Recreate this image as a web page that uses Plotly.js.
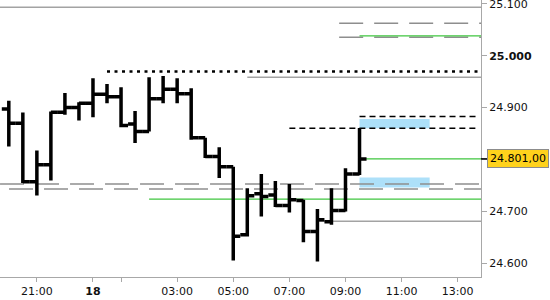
<!DOCTYPE html>
<html>
<head>
<meta charset="utf-8">
<script src="https://cdn.plot.ly/plotly-3.0.1.min.js"></script>
<style>
  html, body { margin: 0; padding: 0; background: #fff; }
  #chart { width: 550px; height: 300px; }
</style>
</head>
<body>
<div id="chart"></div>
<script>
// ---- axis slots (30-minute bars, one hour without trading) ----
const slotTimes = ["20:00","20:30","21:00","21:30","23:00","23:30","00:00","00:30","01:00","01:30",
  "02:00","02:30","03:00","03:30","04:00","04:30","05:00","05:30","06:00","06:30","07:00","07:30",
  "08:00","08:30","09:00","09:30","10:00","10:30","11:00","11:30","12:00","12:30","13:00","13:30"];

// ---- OHLC bars (index points) ----
const barTimes = ["20:00","20:30","21:00","21:30","23:00","23:30","00:00","00:30","01:00","01:30",
  "02:00","02:30","03:00","03:30","04:00","04:30","05:00","05:30","06:00","06:30","07:00","07:30",
  "08:00","08:30","09:00","09:30"];
const openV  = [24897.5, 24870, 24757, 24789.5, 24891, 24900, 24908.5, 24926, 24921, 24868.5, 24854, 24917, 24935.5, 24926.5, 24842, 24805.5, 24786, 24654.5, 24733.5, 24731.5, 24711, 24720.5, 24661, 24679.5, 24701.5, 24772];
const highV  = [24913, 24890.5, 24817, 24892.5, 24928, 24910.5, 24956.5, 24945.5, 24939.5, 24893.5, 24958.5, 24961, 24956.5, 24937.5, 24842, 24823.5, 24786, 24744.5, 24772, 24758.5, 24752.5, 24722, 24704.5, 24744.5, 24783, 24860.5];
const lowV   = [24825, 24754.5, 24730.5, 24759.5, 24886, 24875, 24881.5, 24908.5, 24862, 24831.5, 24854, 24908.5, 24908.5, 24838, 24802.5, 24764, 24605, 24651, 24690, 24708, 24697.5, 24640, 24603, 24674, 24699.5, 24770];
const closeV = [24870, 24757, 24789.5, 24891, 24900, 24908.5, 24926, 24921, 24865.5, 24854, 24917, 24935.5, 24926.5, 24842, 24805.5, 24786, 24651.5, 24730, 24728.5, 24711, 24722, 24661, 24683.5, 24701.5, 24772, 24801];

// ---- x tick labels ----
const tickTimes  = ["21:00","00:00","01:00","03:00","05:00","07:00","09:00","11:00","13:00"];
const tickLabels = ["21:00","<b>18</b>","","03:00","05:00","07:00","09:00","11:00","13:00"];

// ---- y ticks ----
const yTicks = [24600, 24700, 24800, 24900, 25000, 25100];

// ---- horizontal levels (value, start slot) ----
const grayLevels      = [25093.6, 24958.7, 24680.6];
const grayLevelStart  = [-1, 17, 22];
const dashLevels      = [25062.8, 25035.8, 24752.3, 24742.7];
const dashLevelStart  = [23.55, 23.55, -3.12, -2.48];
const greenLevels     = [25038.3, 24723.4];
const greenLevelStart = [25, 10];
const dotLevels       = [24969.5];
const dotLevelStart   = [7];
const blackDashLevels = [24882.7, 24860.3];
const blackDashStart  = [25, 20];
const blackDashEnd    = [33.4, 33.4];
const zoneLow   = [24860.3, 24745.8];
const zoneHigh  = [24878.2, 24765.1];
const zoneStart = [25, 25];
const zoneEnd   = [30, 30];

// ---- build ----
const xIdx = barTimes.map(t => slotTimes.indexOf(t));
const xRange = [-0.628, 33.66];
const yRange = [24573, 25107.7];
const X_END = xRange[1];
const lastClose = closeV[closeV.length - 1];

function fmtDE(v, dec) {
  const s = v.toFixed(dec);
  const parts = s.split('.');
  const intPart = parts[0].replace(/\B(?=(\d{3})+(?!\d))/g, '.');
  return parts.length > 1 ? intPart + ',' + parts[1] : intPart;
}

const shapes = [];
zoneLow.forEach((lo, i) => shapes.push({
  type: 'rect', xref: 'x', yref: 'y', x0: zoneStart[i], x1: zoneEnd[i], y0: lo, y1: zoneHigh[i],
  fillcolor: '#ade0f9', line: { width: 0 }, layer: 'below'
}));
grayLevels.forEach((v, i) => shapes.push({
  type: 'line', xref: 'x', yref: 'y', x0: grayLevelStart[i], x1: X_END, y0: v, y1: v,
  line: { color: '#a3a3a3', width: 1.5 }, layer: 'below'
}));
dashLevels.forEach((v, i) => shapes.push({
  type: 'line', xref: 'x', yref: 'y', x0: dashLevelStart[i], x1: X_END, y0: v, y1: v,
  line: { color: '#8e8e8e', width: 1.5, dash: '24px,11px' }, layer: 'below'
}));
greenLevels.forEach((v, i) => shapes.push({
  type: 'line', xref: 'x', yref: 'y', x0: greenLevelStart[i], x1: X_END, y0: v, y1: v,
  line: { color: '#3fc63f', width: 1.3 }, layer: 'below'
}));
shapes.push({
  type: 'line', xref: 'x', yref: 'y', x0: xIdx[xIdx.length - 1], x1: X_END, y0: lastClose, y1: lastClose,
  line: { color: '#3fc63f', width: 1.3 }, layer: 'below'
});
dotLevels.forEach((v, i) => shapes.push({
  type: 'line', xref: 'x', yref: 'y', x0: dotLevelStart[i], x1: X_END, y0: v, y1: v,
  line: { color: '#000', width: 2.5, dash: '3px,4.5px' }, layer: 'below'
}));
blackDashLevels.forEach((v, i) => shapes.push({
  type: 'line', xref: 'x', yref: 'y', x0: blackDashStart[i], x1: blackDashEnd[i], y0: v, y1: v,
  line: { color: '#000', width: 1.5, dash: '6px,4px' }, layer: 'below'
}));
// connector tick from axis to price label
shapes.push({
  type: 'line', xref: 'paper', yref: 'y', xsizemode: 'pixel', xanchor: 1, x0: 0, x1: 7,
  y0: lastClose, y1: lastClose, line: { color: '#000', width: 1.5 }
});

const trace = {
  type: 'ohlc',
  x: xIdx, open: openV, high: highV, low: lowV, close: closeV,
  increasing: { line: { color: '#000', width: 3.5 } },
  decreasing: { line: { color: '#000', width: 3.5 } },
  tickwidth: 0.5,
  hoverinfo: 'skip',
  showlegend: false
};

const font = { family: 'DejaVu Sans, Verdana, sans-serif', size: 11, color: '#111' };

const layout = {
  width: 550, height: 300,
  margin: { l: 0, r: 69, t: 0, b: 23, pad: 0 },
  paper_bgcolor: '#fff', plot_bgcolor: '#fff',
  font: font,
  showlegend: false,
  xaxis: {
    type: 'linear', range: xRange, fixedrange: true,
    rangeslider: { visible: false },
    showgrid: false, zeroline: false,
    showline: true, linecolor: '#a8a8a8', linewidth: 1,
    ticks: 'outside', ticklen: 4, tickcolor: '#a8a8a8', tickwidth: 1,
    tickvals: tickTimes.map(t => slotTimes.indexOf(t)),
    ticktext: tickLabels,
    tickfont: font
  },
  yaxis: {
    side: 'right', range: yRange, fixedrange: true,
    showgrid: false, zeroline: false,
    showline: true, linecolor: '#a8a8a8', linewidth: 1,
    ticks: 'outside', ticklen: 5, tickcolor: '#a8a8a8', tickwidth: 1,
    ticklabeloverflow: 'allow',
    tickvals: yTicks,
    ticktext: yTicks.map(v => v === 24800 ? '' : (v === 25000 ? '<b>' + fmtDE(v, 0) + '</b>' : fmtDE(v, 0))),
    tickfont: font
  },
  shapes: shapes,
  annotations: [{
    xref: 'paper', x: 1, xanchor: 'left', xshift: 6,
    yref: 'y', y: lastClose, yanchor: 'middle',
    text: fmtDE(lastClose, 2), showarrow: false,
    bgcolor: '#ffd21c', bordercolor: '#8c8c8c', borderwidth: 1, borderpad: 2,
    font: { family: font.family, size: 11, color: '#000' }
  }]
};

Plotly.newPlot('chart', [trace], layout, { displayModeBar: false, staticPlot: true });
</script>
</body>
</html>
